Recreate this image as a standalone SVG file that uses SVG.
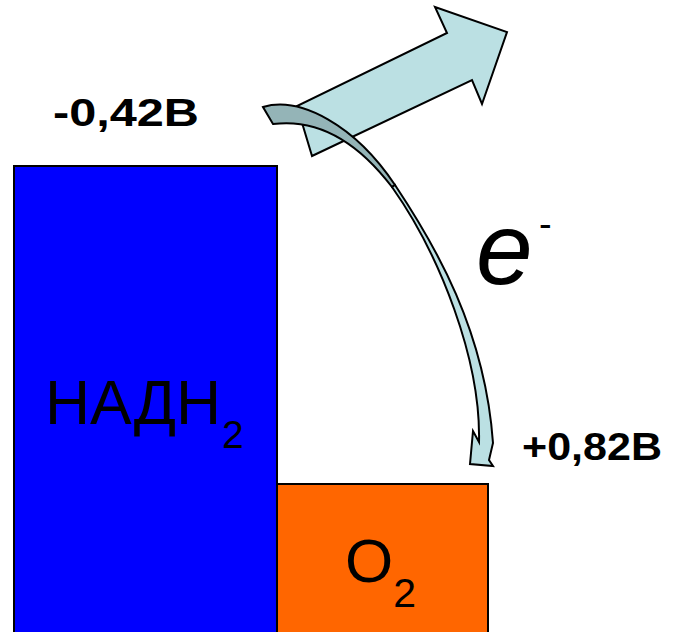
<svg xmlns="http://www.w3.org/2000/svg" width="678" height="632" viewBox="0 0 678 632">
<style>
.box{stroke:#000;stroke-width:2}
.lbl{font-family:"Liberation Sans",Arial,sans-serif;fill:#000}
.b{font-weight:bold}
.arr{stroke:#000;stroke-width:2;stroke-linejoin:miter}
</style>
<rect width="678" height="632" fill="#fff"/>
<g id="o2">
<rect class="box" x="277" y="484" width="211" height="160" fill="#ff6600"/>
<text class="lbl" x="345" y="582" font-size="62">O<tspan font-size="41" dy="25">2</tspan></text>
</g>
<g id="nadh2">
<rect class="box" x="14" y="166" width="263" height="480" fill="#0000ff"/>
<text class="lbl" x="45" y="424" font-size="63" textLength="176" lengthAdjust="spacingAndGlyphs">НАДН</text>
<text class="lbl" x="222" y="448" font-size="39">2</text>
</g>
<g id="labels">
<text class="lbl b" x="53" y="126" font-size="38" textLength="146" lengthAdjust="spacingAndGlyphs">-0,42B</text>
<text class="lbl b" x="522" y="460" font-size="39" textLength="140" lengthAdjust="spacingAndGlyphs">+0,82B</text>
<text class="lbl" x="476" y="284" font-size="102" font-style="italic">e</text>
<text class="lbl" x="539" y="237" font-size="38">-</text>
</g>
<g id="connectors">
<polygon class="arr" fill="#bbe0e3" points="312,156 297,106 447,33 435,7 507,32 482,104 472,80"/>
<path class="arr" fill="#94b4b7" d="M263,107 C300,96 355,125 395,185 L392,187 C360,145 320,118 273,124 Z"/>
<path class="arr" stroke-width="1.8" fill="#bbe0e3" d="M395,185 C435,245 485,330 493,443 L489,460 L493,466 L470,464 L473,431 L479,442 C481,360 440,255 392,187 Z"/>
</g>
</svg>
